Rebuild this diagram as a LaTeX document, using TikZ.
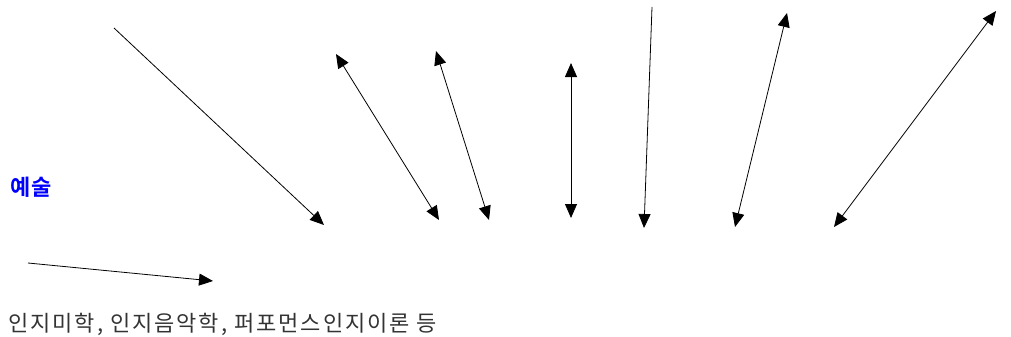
\documentclass[tikz,border=0pt]{standalone}
\usepackage{fontspec}
\usetikzlibrary{arrows.meta}
\newfontfamily\kr[LetterSpace=9]{Noto Sans CJK KR}
\newfontfamily\krb[LetterSpace=6]{Noto Sans CJK KR Bold}
\definecolor{artblue}{HTML}{0000FF}
\definecolor{txtgray}{HTML}{333333}
\tikzset{
  conn/.style={line width=0.8pt, -{Triangle[length=14pt,width=12pt]}},
  dconn/.style={line width=0.8pt, {Triangle[length=14pt,width=12pt]}-{Triangle[length=14pt,width=12pt]}},
  lbl/.style={inner sep=0pt, anchor=west}
}
\begin{document}
\begin{tikzpicture}[x=1pt,y=-1pt]
\useasboundingbox (0,0) rectangle (1011,337);
\node[lbl, text=artblue, font=\krb\fontsize{22}{25}\selectfont] (art) at (10,187) {예술};
\node[lbl, text=txtgray, font=\kr\fontsize{22}{25}\selectfont] (list) at (8,324) {인지미학, 인지음악학, 퍼포먼스인지이론 등};
\coordinate (a1s) at (114,28);  \coordinate (a1e) at (324,225);
\coordinate (a2s) at (336,54);  \coordinate (a2e) at (439,220);
\coordinate (a3s) at (436,51);  \coordinate (a3e) at (489,220);
\coordinate (a4s) at (571,63);  \coordinate (a4e) at (571,218);
\coordinate (a5s) at (652,7);   \coordinate (a5e) at (644,228);
\coordinate (a6s) at (787,13);  \coordinate (a6e) at (735,227);
\coordinate (a7s) at (996,11);  \coordinate (a7e) at (834,227);
\coordinate (a8s) at (28,263);  \coordinate (a8e) at (213,281);
\draw[conn] (a1s) -- (a1e);
\draw[dconn] (a2s) -- (a2e);
\draw[dconn] (a3s) -- (a3e);
\draw[dconn] (a4s) -- (a4e);
\draw[conn] (a5s) -- (a5e);
\draw[dconn] (a6s) -- (a6e);
\draw[dconn] (a7s) -- (a7e);
\draw[conn] (a8s) -- (a8e);
\end{tikzpicture}
\end{document}
